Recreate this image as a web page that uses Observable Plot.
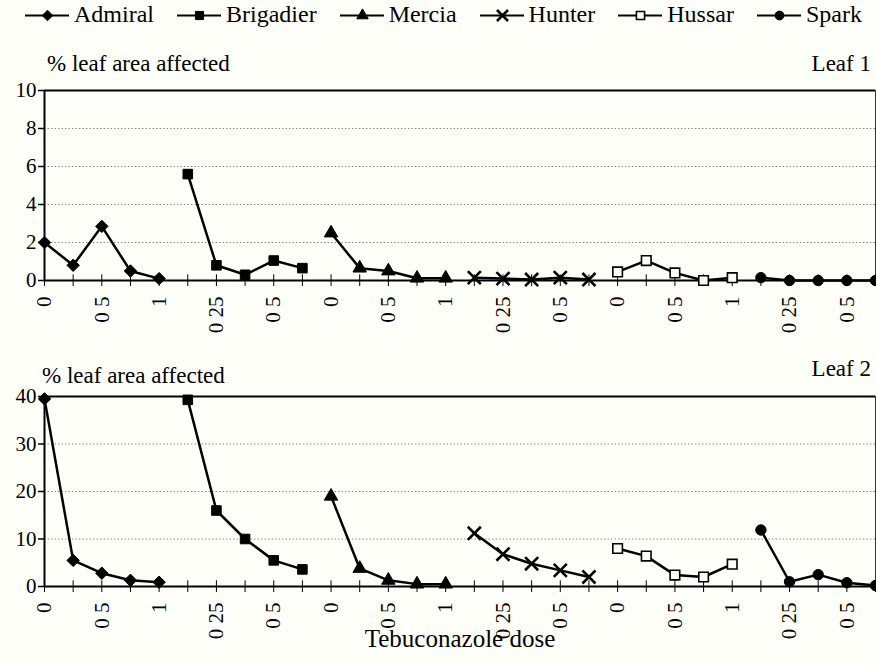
<!DOCTYPE html>
<html>
<head>
<meta charset="utf-8">
<script src="https://cdn.jsdelivr.net/npm/d3@7"></script>
<script src="https://cdn.jsdelivr.net/npm/@observablehq/plot@0.6"></script>
<style>
  html, body { margin: 0; padding: 0; background: #fffffa; }
  #root { position: relative; width: 876px; height: 666px; font-family: "Liberation Serif", "Times New Roman", serif; color: #000; overflow: hidden; }
  #root, #root * { font-family: "Liberation Serif", "Times New Roman", serif !important; }
  .abs { position: absolute; white-space: nowrap; }
  #legend { position: absolute; left: 25px; top: 1px; width: 851px; display: flex; justify-content: flex-start; gap: 23px; font-size: 24px; }
  .item { display: flex; align-items: center; gap: 5px; }
  .lbl { font-size: 23px; }
  svg { overflow: visible; }
</style>
</head>
<body>
<div id="root"></div>
<script>
// ---- data ----
const cultivars = ["Admiral", "Brigadier", "Mercia", "Hunter", "Hussar", "Spark"];
const doses = [0, 0.25, 0.5, 0.75, 1];
const tickLabels = ["0", "", "0 5", "", "1", "", "0 25", "", "0 5", "",
                    "0", "", "0 5", "", "1", "", "0 25", "", "0 5", "",
                    "0", "", "0 5", "", "1", "", "0 25", "", "0 5", ""];

// Leaf 1 (% leaf area affected)
const admiral1   = [2.0, 0.8, 2.85, 0.5, 0.1];
const brigadier1 = [5.6, 0.8, 0.3, 1.05, 0.65];
const mercia1    = [2.5, 0.65, 0.5, 0.12, 0.12];
const hunter1    = [0.15, 0.1, 0.05, 0.15, 0.05];
const hussar1    = [0.45, 1.05, 0.4, 0.0, 0.15];
const spark1     = [0.15, 0.0, 0.0, 0.0, 0.0];

// Leaf 2 (% leaf area affected)
const admiral2   = [39.5, 5.5, 2.8, 1.3, 0.9];
const brigadier2 = [39.3, 16.0, 10.0, 5.5, 3.6];
const mercia2    = [19.0, 3.8, 1.3, 0.5, 0.5];
const hunter2    = [11.2, 6.8, 4.8, 3.4, 2.0];
const hussar2    = [8.0, 6.4, 2.4, 2.0, 4.7];
const spark2     = [11.9, 1.0, 2.5, 0.8, 0.2];

const yTicks1 = [0, 2, 4, 6, 8, 10];
const yTicks2 = [0, 10, 20, 30, 40];

// ---- build ----
const FONT = "Liberation Serif, Times New Roman, serif";
const symbols = {
  Admiral:   {symbol: "diamond2", fill: "black", stroke: "black", r: 5.6, strokeWidth: 1},
  Brigadier: {symbol: "square",   fill: "black", stroke: "black", r: 5.4, strokeWidth: 1},
  Mercia:    {symbol: "triangle", fill: "black", stroke: "black", r: 5,   strokeWidth: 1},
  Hunter:    {symbol: "times",    fill: "none",  stroke: "black", r: 6,   strokeWidth: 2.6},
  Hussar:    {symbol: "square",   fill: "#fffffa", stroke: "black", r: 5.4, strokeWidth: 1.6},
  Spark:     {symbol: "circle",   fill: "black", stroke: "black", r: 5.2, strokeWidth: 1}
};

function rows(series) {
  const out = [];
  series.forEach((vals, c) => vals.forEach((v, d) => out.push({i: c * 5 + d, dose: doses[d], v, cultivar: cultivars[c]})));
  return out;
}

const leaf1 = rows([admiral1, brigadier1, mercia1, hunter1, hussar1, spark1]);
const leaf2 = rows([admiral2, brigadier2, mercia2, hunter2, hussar2, spark2]);

function panel(data, yTicks, top) {
  const n = cultivars.length * doses.length;
  const pos = d3.range(n);
  const marks = [
    Plot.ruleY(yTicks.filter(t => t !== 0 && t !== top), {stroke: "#8a8a8a", strokeWidth: 1, strokeDasharray: "1.5,2"}),
    Plot.ruleY([top], {stroke: "black", strokeWidth: 2}),
    Plot.ruleX([n - 1], {y1: 0, y2: top, stroke: "#333", strokeWidth: 1}),
    Plot.axisY({ticks: yTicks, tickSize: 6, tickPadding: 2, fontSize: 21, fontFamily: FONT, label: null, stroke: "black", strokeWidth: 1.5}),
    Plot.axisX({ticks: pos, tickFormat: i => tickLabels[i], tickRotate: -90, tickSize: 6, tickPadding: 10, fontSize: 21, fontFamily: FONT, label: null, stroke: "black", strokeWidth: 1}),
    Plot.ruleX(pos, {y1: 0, y2: top * 0.03, stroke: "black", strokeWidth: 1}),
    Plot.ruleY([0], {stroke: "black", strokeWidth: 2}),
    Plot.ruleX([0], {y1: 0, y2: top, stroke: "black", strokeWidth: 2}),
    Plot.line(data, {x: "i", y: "v", z: "cultivar", stroke: "black", strokeWidth: 2.5})
  ];
  for (const c of cultivars) {
    const s = symbols[c];
    marks.push(Plot.dot(data.filter(d => d.cultivar === c), {x: "i", y: "v", symbol: () => s.symbol, r: s.r, fill: s.fill, stroke: s.stroke, strokeWidth: s.strokeWidth}));
  }
  return Plot.plot({
    width: 876,
    height: 290,
    marginLeft: 44,
    marginRight: 1,
    marginTop: 40,
    marginBottom: 60,
    style: {background: "transparent", fontFamily: FONT, color: "black", overflow: "visible"},
    x: {domain: [0, n - 1], axis: null},
    y: {domain: [0, top], axis: null},
    symbol: {type: "identity"},
    marks
  });
}

const root = document.getElementById("root");

// legend
const legend = document.createElement("div");
legend.id = "legend";
for (const c of cultivars) {
  const s = symbols[c];
  const item = document.createElement("div");
  item.className = "item";
  const sw = Plot.plot({
    width: 44, height: 22, margin: 0,
    style: {background: "transparent", overflow: "visible"},
    x: {domain: [0, 1], axis: null}, y: {domain: [0, 1], axis: null},
    symbol: {type: "identity"},
    marks: [
      Plot.ruleY([0.5], {stroke: "black", strokeWidth: 2}),
      Plot.dot([{x: 0.5, y: 0.5}], {x: "x", y: "y", symbol: () => s.symbol, r: s.r * 0.85, fill: s.fill, stroke: s.stroke, strokeWidth: s.strokeWidth})
    ]
  });
  item.appendChild(sw);
  const t = document.createElement("span");
  t.textContent = c;
  item.appendChild(t);
  legend.appendChild(item);
}
root.appendChild(legend);

function place(node, left, top) {
  node.style.position = "absolute";
  node.style.left = left + "px";
  node.style.top = top + "px";
  root.appendChild(node);
}

place(panel(leaf1, yTicks1, 10), 0, 50);
place(panel(leaf2, yTicks2, 40), 0, 356);

function label(text, left, top, right) {
  const d = document.createElement("div");
  d.className = "abs lbl";
  d.textContent = text;
  d.style.top = top + "px";
  if (right != null) d.style.right = right + "px"; else d.style.left = left + "px";
  root.appendChild(d);
}
label("% leaf area affected", 47, 51);
label("Leaf 1", null, 51, 5);
label("% leaf area affected", 42, 363);
label("Leaf 2", null, 356, 5);

const xt = document.createElement("div");
xt.className = "abs";
xt.style.fontSize = "25px";
xt.style.left = "0px";
xt.style.width = "920px";
xt.style.textAlign = "center";
xt.style.top = "625px";
xt.textContent = "Tebuconazole dose";
root.appendChild(xt);
</script>
</body>
</html>
